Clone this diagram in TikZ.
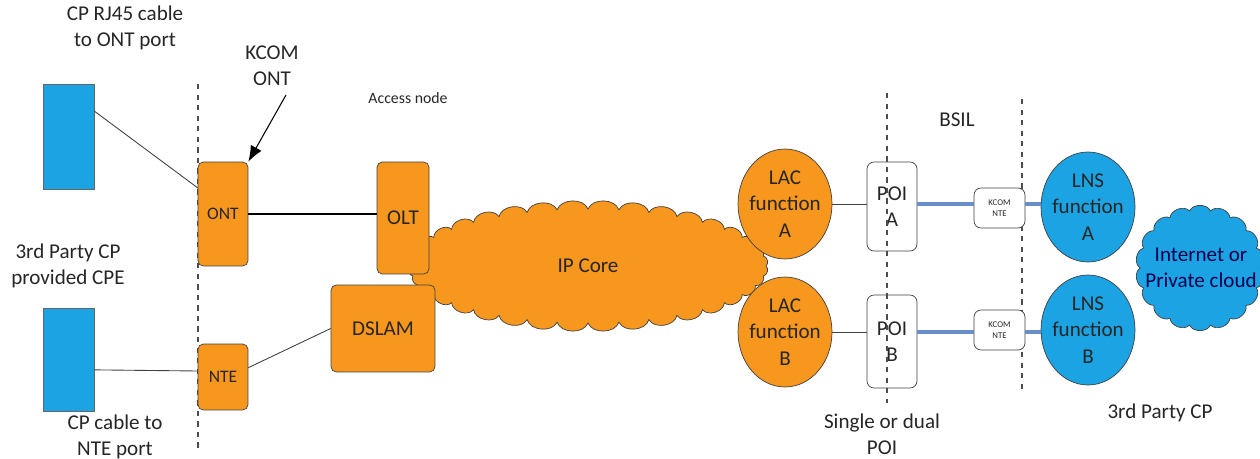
\documentclass[tikz,border=0pt]{standalone}
\usepackage{fontspec}
\setmainfont{Carlito}
\usepackage{tikz}
\usetikzlibrary{shapes.geometric,arrows,arrows.meta,calc,positioning}
\definecolor{korange}{RGB}{247,151,29}
\definecolor{kblue}{RGB}{28,163,227}
\definecolor{klink}{RGB}{108,142,200}

\begin{document}
\begin{tikzpicture}[x=0.02cm, y=-0.02cm]
	\tikzstyle{every node} = [font=\fontsize{12}{15}\selectfont, align=center, text=black!85]
	\tikzstyle{kbox} = [draw=black!75, fill=korange, rounded corners=3pt, inner sep=0pt]
	\tikzstyle{kfunc} = [ellipse, draw=black!75, inner sep=-3pt, minimum width=1.88cm, minimum height=2.2cm]
	\tikzstyle{cpe} = [draw=black!60, fill=kblue, minimum width=1.02cm, inner sep=0pt]
	\tikzstyle{poi} = [draw=black!75, rounded corners=4pt, minimum width=1cm, inner sep=0pt]
	\tikzstyle{kntebox} = [draw=black!75, fill=white, rounded corners=4pt, minimum width=1.02cm, minimum height=0.8cm, font=\fontsize{5}{6}\selectfont, inner sep=0pt]
	\tikzstyle{border} = [dashed, draw=black!70, line width=0.6pt]
	\tikzstyle{wire} = [draw=black!75, line width=0.5pt]
	\tikzstyle{blueline} = [draw=klink, line width=1.8pt]
\useasboundingbox (0,0) rectangle (1260,459);
% demarcation lines
\coordinate (d1) at (198, 84);
\coordinate (d1e) at (198, 448);
\coordinate (d2) at (887, 93);
\coordinate (d2e) at (887, 403);
\coordinate (d3) at (1022, 99);
\coordinate (d3e) at (1022, 390);
	\path[border] (d1) -- (d1e);
	\path[border] (d3) -- (d3e);
% clouds
\coordinate (core) at (588, 266);
	\path[draw=black!75, fill=korange] ($(core)+(0:178 and 57)$)
		foreach \i in {1,...,36} { to[bend left=70] ($(core)+(\i*10:178 and 57)$) } -- cycle;
\node (corelbl) at (core) {IP Core};
\coordinate (net) at (1200, 268);
	\path[draw=black!75, fill=kblue] ($(net)+(0:60 and 58)$)
		foreach \i in {1,...,18} { to[bend left=65] ($(net)+(\i*20:60 and 58)$) } -- cycle;
\node[text=black!70!blue] (netlbl) at (1201, 268) {Internet or\\Private cloud};
% customer side
\node[cpe, minimum height=2.1cm] (cpe1) at (68.5, 136.5) {};
\node[cpe, minimum height=2.06cm] (cpe2) at (68.5, 359.5) {};
\node[kbox, minimum width=1cm, minimum height=2.08cm, font=\fontsize{10}{12}\selectfont] (ont) at (223, 214) {ONT};
\node[kbox, minimum width=1cm, minimum height=1.32cm, font=\fontsize{10}{12}\selectfont] (nte) at (223, 377) {NTE};
\node[kbox, minimum width=1.04cm, minimum height=2.24cm] (olt) at (403, 218) {OLT};
\node[kbox, minimum width=2.08cm, minimum height=1.74cm] (dslam) at (383, 328.5) {DSLAM};
% LAC / POI / LNS
\node[kfunc, fill=korange] (lacA) at (785, 204) {LAC\\function\\A};
\node[kfunc, fill=korange] (lacB) at (785, 332) {LAC\\function\\B};
\node[poi, minimum height=1.78cm] (poiA) at (892, 206.5) {POI\\A};
\node[poi, minimum height=1.86cm] (poiB) at (892, 341.5) {POI\\B};
\node[kntebox] (nteA) at (999.5, 208) {KCOM\\NTE};
\node[kntebox] (nteB) at (999.5, 330) {KCOM\\NTE};
\node[kfunc, fill=kblue] (lnsA) at (1088, 207) {LNS\\function\\A};
\node[kfunc, fill=kblue] (lnsB) at (1088, 330) {LNS\\function\\B};
	\path[border] (d2) -- (d2e);
% labels
\node (lblrj) at (125, 28) {CP RJ45 cable\\to ONT port};
\node (lblont) at (272, 66) {KCOM\\ONT};
\node[font=\fontsize{9}{11}\selectfont] (lblacc) at (408, 98) {Access node};
\node (lblcpe) at (68, 266) {3rd Party CP\\provided CPE};
\node (lblnte) at (115, 437) {CP cable to\\NTE port};
\node (lblbsil) at (957, 120) {BSIL};
\node (lblpoi) at (882, 434) {Single or dual\\POI};
\node (lblcp) at (1160, 413) {3rd Party CP};
\coordinate (arr) at (286, 95);
% links
	\path[draw, -{Latex[length=9pt,width=7pt]}, line width=0.6pt] (arr) -- (ont.north east);
	\path[wire] ($(cpe1.north east)!0.26!(cpe1.south east)$) -- ($(ont.north west)!0.25!(ont.south west)$);
	\path[wire] ($(cpe2.north east)!0.6!(cpe2.south east)$) -- ($(nte.north west)!0.41!(nte.south west)$);
	\path[wire] ($(nte.north east)!0.36!(nte.south east)$) -- (dslam.west);
	\path[draw, line width=1.1pt] (ont.east) -- (ont.east -| olt.west);
	\path[wire] (lacA.east) -- (lacA.east -| poiA.west);
	\path[wire] (lacB.east) -- (lacB.east -| poiB.west);
	\path[blueline] (poiA.east |- lacA.east) -- (nteA.west |- lacA.east);
	\path[blueline] (nteA.east |- lacA.east) -- (lnsA.west |- lacA.east);
	\path[blueline] (poiB.east |- lacB.east) -- (nteB.west |- lacB.east);
	\path[blueline] (nteB.east |- lacB.east) -- (lnsB.west |- lacB.east);
\end{tikzpicture}
\end{document}
